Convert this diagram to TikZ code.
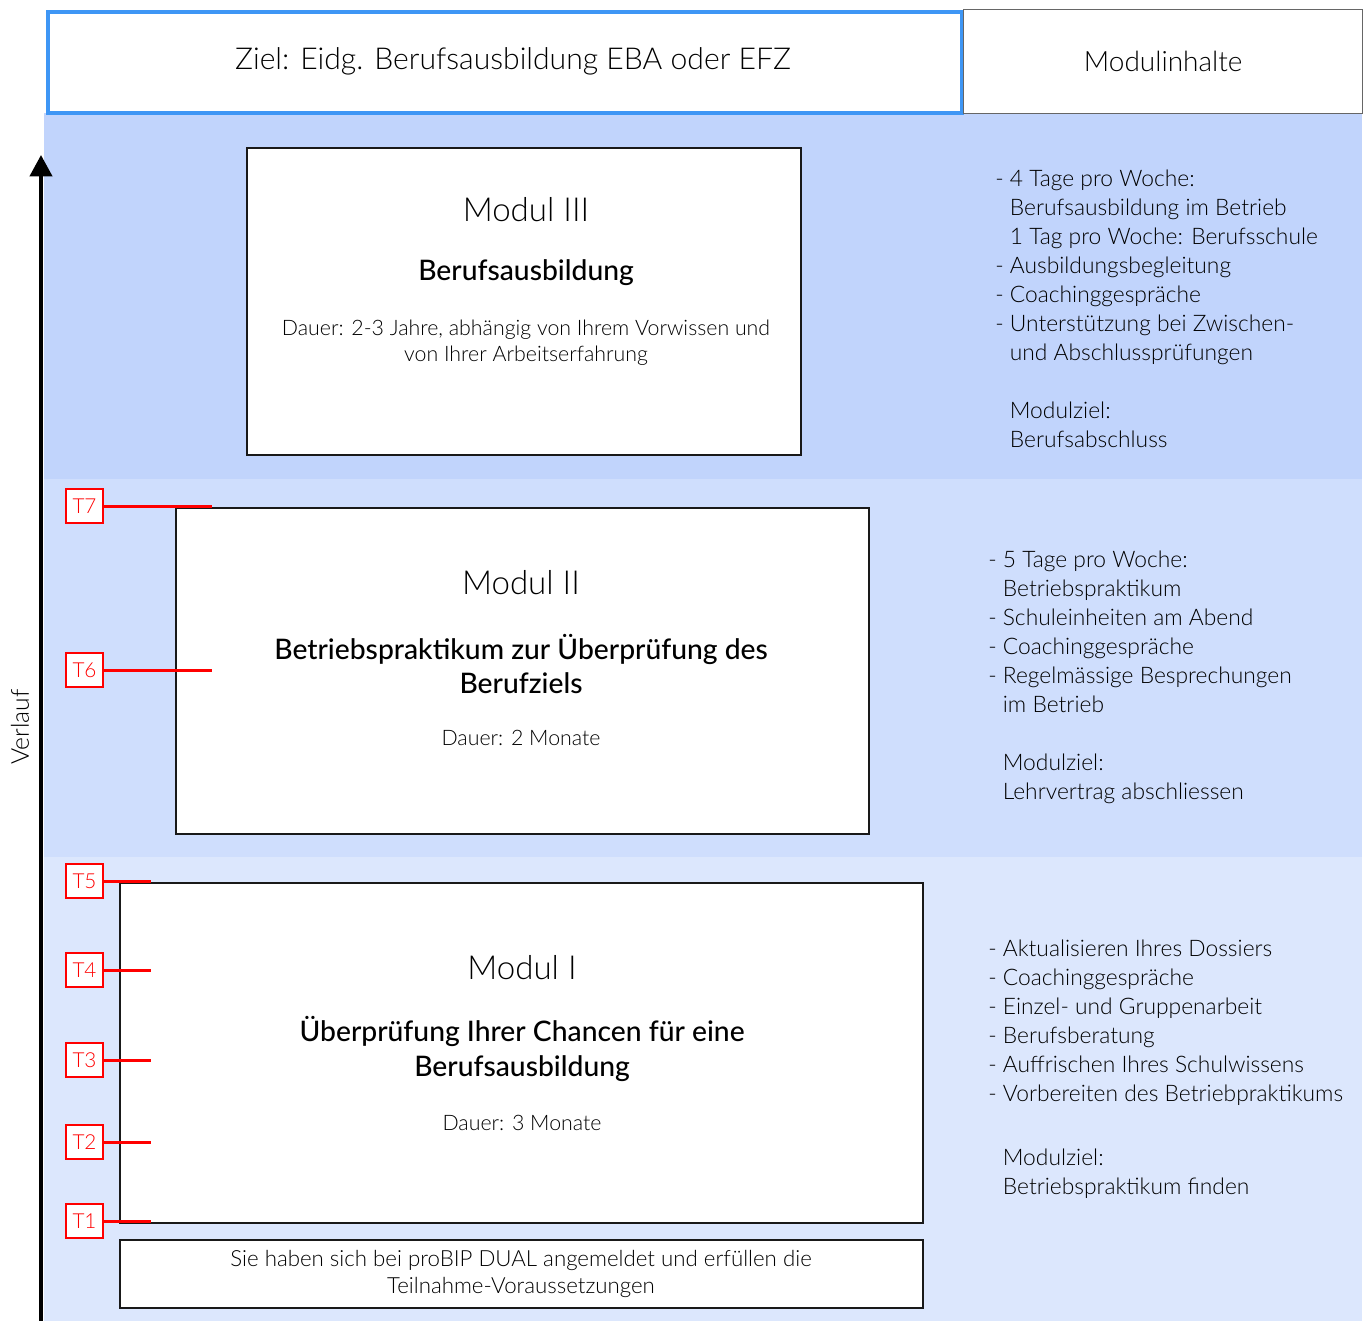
\documentclass[tikz,border=0pt]{standalone}
\usepackage{fontspec}
\setmainfont{Lato}[UprightFont=* Light, BoldFont=* Medium]
\usetikzlibrary{arrows.meta}
\definecolor{bandA}{RGB}{193,212,252}
\definecolor{bandB}{RGB}{207,222,253}
\definecolor{bandC}{RGB}{220,231,253}
\definecolor{hdrblue}{RGB}{62,150,245}
\definecolor{tred}{RGB}{255,0,0}
\begin{document}
\begin{tikzpicture}[x=0.75pt,y=-0.75pt,
  modbox/.style={draw=black!90, line width=1.5pt, fill=white, inner sep=0pt, anchor=north west},
  tbox/.style={draw=tred, text=tred, line width=1.5pt, fill=white, minimum width=27.75pt, minimum height=25.5pt, inner sep=0pt, font=\fontsize{15.5}{18}\selectfont},
  tline/.style={draw=tred, line width=2.25pt},
  modtitle/.style={font=\fontsize{24.8}{28}\selectfont},
  modsub/.style={font=\fontsize{21.2}{26}\selectfont\bfseries, align=center},
  moddur/.style={font=\fontsize{16}{19.5}\selectfont, align=center},
  righttext/.style={anchor=north west, align=left, inner sep=0pt, font=\fontsize{17.1}{21.75}\selectfont}
]
\useasboundingbox (0,0) rectangle (1368,1321);
% bands
\fill[bandA] (44,113) rectangle (1362,479);
\fill[bandB] (44,479) rectangle (1362,857);
\fill[bandC] (44,857) rectangle (1362,1321);
% header
\node[draw=hdrblue, line width=3.2pt, fill=white, inner sep=0pt, anchor=north west,
  minimum width=914.5*0.75pt, minimum height=100.5*0.75pt] (ziel) at (45.5,10) {};
\node[font=\fontsize{22.6}{26}\selectfont] (zieltext) at (513,61) {Ziel: Eidg. Berufsausbildung EBA oder EFZ};
\node[draw=black!60, line width=1pt, fill=white, inner sep=0pt, anchor=north west,
  minimum width=399*0.75pt, minimum height=104*0.75pt, font=\fontsize{21}{24}\selectfont] (inhalte) at (963,9) {Modulinhalte};
% arrow
\coordinate (a0) at (41,1321);
\coordinate (a1) at (41,155);
\draw[line width=3pt, -{Triangle[width=16.5pt,length=16pt]}] (a0) -- (a1);
\node[rotate=90, font=\fontsize{18.5}{22}\selectfont] (verlauf) at (20,727) {Verlauf};
% Modul III
\node[modbox, minimum width=554*0.75pt, minimum height=307*0.75pt] (m3) at (246,147) {};
\node[modtitle] (m3t) at (526,210) {Modul III};
\node[modsub] (m3s) at (526,273) {Berufsausbildung};
\node[moddur] (m3d) at (526,343) {Dauer: 2-3 Jahre, abhängig von Ihrem Vorwissen und\\von Ihrer Arbeitserfahrung};
% Modul II
\node[modbox, minimum width=693*0.75pt, minimum height=326*0.75pt] (m2) at (175,507) {};
\node[modtitle] (m2t) at (521,583) {Modul II};
\node[modsub] (m2s) at (521,664) {Betriebspraktikum zur Überprüfung des\\Berufziels};
\node[moddur] (m2d) at (521,738) {Dauer: 2 Monate};
% Modul I
\node[modbox, minimum width=803*0.75pt, minimum height=340*0.75pt] (m1) at (119,882) {};
\node[modtitle] (m1t) at (522,968) {Modul I};
\node[modsub] (m1s) at (522,1049) {Überprüfung Ihrer Chancen für eine\\Berufsausbildung};
\node[moddur] (m1d) at (522,1123) {Dauer: 3 Monate};
% bottom box
\node[modbox, minimum width=803*0.75pt, minimum height=68*0.75pt] (start) at (119,1239) {};
\node[font=\fontsize{16.7}{20.25}\selectfont, align=center] (starttext) at (521,1274) {Sie haben sich bei proBIP DUAL angemeldet und erfüllen die\\Teilnahme-Voraussetzungen};
% T markers
\coordinate (e7) at (212,506);
\coordinate (e6) at (212,670);
\coordinate (e5) at (151,881);
\coordinate (e4) at (151,970);
\coordinate (e3) at (151,1060);
\coordinate (e2) at (151,1142);
\coordinate (e1) at (151,1221);
\node[tbox] (t7) at (84.5,506) {T7};
\node[tbox] (t6) at (84.5,670) {T6};
\node[tbox] (t5) at (84.5,881) {T5};
\node[tbox] (t4) at (84.5,970) {T4};
\node[tbox] (t3) at (84.5,1060) {T3};
\node[tbox] (t2) at (84.5,1142) {T2};
\node[tbox] (t1) at (84.5,1221) {T1};
\draw[tline] (t7) -- (e7);
\draw[tline] (t6) -- (e6);
\draw[tline] (t5) -- (e5);
\draw[tline] (t4) -- (e4);
\draw[tline] (t3) -- (e3);
\draw[tline] (t2) -- (e2);
\draw[tline] (t1) -- (e1);
% right texts
\node[righttext] (r3) at (995,170) {- 4 Tage pro Woche:\\\phantom{- }Berufsausbildung im Betrieb\\\phantom{- }1 Tag pro Woche: Berufsschule\\- Ausbildungsbegleitung\\- Coachinggespräche\\- Unterstützung bei Zwischen-\\\phantom{- }und Abschlussprüfungen\\[21.75pt]\phantom{- }Modulziel:\\\phantom{- }Berufsabschluss};
\node[righttext] (r2) at (988,551) {- 5 Tage pro Woche:\\\phantom{- }Betriebspraktikum\\- Schuleinheiten am Abend\\- Coachinggespräche\\- Regelmässige Besprechungen\\\phantom{- }im Betrieb\\[21.75pt]\phantom{- }Modulziel:\\\phantom{- }Lehrvertrag abschliessen};
\node[righttext] (r1) at (988,940) {- Aktualisieren Ihres Dossiers\\- Coachinggespräche\\- Einzel- und Gruppenarbeit\\- Berufsberatung\\- Auffrischen Ihres Schulwissens\\- Vorbereiten des Betriebpraktikums\\[26pt]\phantom{- }Modulziel:\\\phantom{- }Betriebspraktikum finden};
\end{tikzpicture}
\end{document}
